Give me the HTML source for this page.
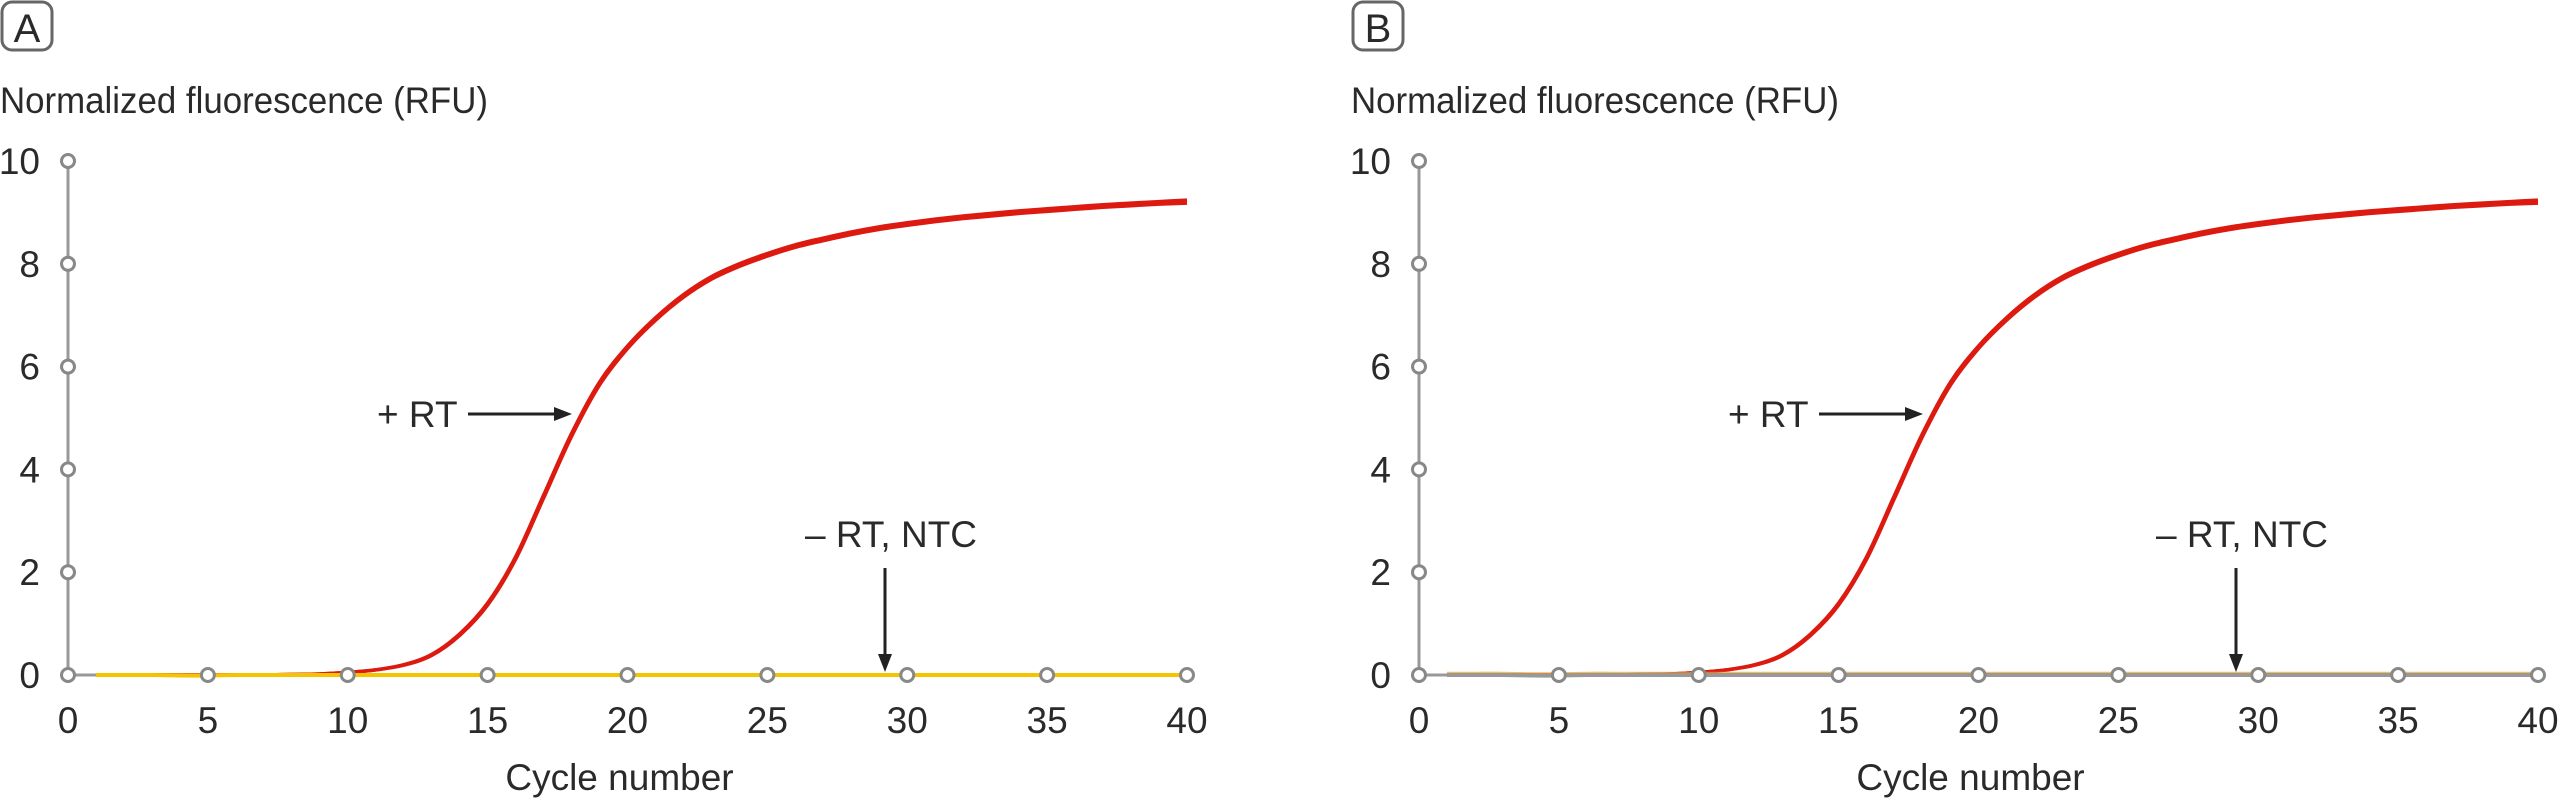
<!DOCTYPE html>
<html><head><meta charset="utf-8"><style>
html,body{margin:0;padding:0;background:#fff;}
svg text{font-family:"Liberation Sans",sans-serif;fill:#2a2a2a;}
</style></head><body>
<svg id="chart" width="2560" height="798" viewBox="0 0 2560 798" xmlns="http://www.w3.org/2000/svg"></svg>
<script>
const xTicks=[0,5,10,15,20,25,30,35,40];
const yTicks=[0,2,4,6,8,10];
const cycles=[1,2,3,4,5,6,7,8,9,10,11,12,13,14,15,16,17,18,19,20,21,22,23,24,25,26,27,28,29,30,31,32,33,34,35,36,37,38,39,40];
const rtA=[0,0,0,0,0,0,0,0.01,0.02,0.05,0.1,0.2,0.4,0.8,1.4,2.3,3.5,4.7,5.7,6.4,6.95,7.4,7.75,8.0,8.2,8.37,8.5,8.62,8.72,8.8,8.87,8.93,8.98,9.03,9.07,9.11,9.15,9.18,9.21,9.24];
const rtB=[0,0,0,0,0,0,0,0.01,0.02,0.05,0.1,0.19,0.38,0.77,1.36,2.25,3.44,4.64,5.64,6.35,6.9,7.35,7.7,7.95,8.15,8.32,8.45,8.57,8.67,8.75,8.82,8.88,8.93,8.98,9.02,9.06,9.1,9.13,9.16,9.18];
const ntc=[0,0,0,-0.01,-0.01,0,0,0,0,0,0,0,0,0,0,0,0,0,0,0,0,0,0,0,0,0,0,0,0,0,0,0,0,0,0,0,0,0,0,0];
const panels=[{label:"A",ox:68,base:"#f5c400"},{label:"B",ox:1419,base:"#999999"}];
const NS="http://www.w3.org/2000/svg";
const svg=document.getElementById('chart');
function mk(tag,attrs,parent){const e=document.createElementNS(NS,tag);for(const k in attrs)e.setAttribute(k,attrs[k]);(parent||svg).appendChild(e);return e;}
const y0=675,y10=161,W=1119;
panels.forEach(p=>{
  const g=mk('g',{});
  
  
  const X=v=>p.ox+v/40*W, Y=v=>y0-(v/10)*(y0-y10);
  const box=mk('rect',{x:p.ox-66,y:2,width:50,height:48,rx:10,fill:'none',stroke:'#666','stroke-width':3},g);
  
  const lt=mk('text',{x:p.ox-41,y:42,'font-size':40,'text-anchor':'middle'},g);lt.textContent=p.label;
  
  const yt=mk('text',{x:p.ox-68,y:113,'font-size':37,textLength:488,lengthAdjust:'spacingAndGlyphs'},g);
  yt.textContent='Normalized fluorescence (RFU)';
  
  const xt=mk('text',{x:X(20)-8,y:790,'font-size':37,'text-anchor':'middle'},g);xt.textContent='Cycle number';
  
  const ya=mk('line',{x1:X(0),y1:Y(10),x2:X(0),y2:Y(0),stroke:'#999','stroke-width':3},g);
  
  const xa=mk('line',{x1:X(0),y1:Y(0),x2:X(40),y2:Y(0),stroke:'#999','stroke-width':3},g);
  
  const pts=arr=>cycles.map((c,i)=>[X(c),Y(arr[i])]);
  function smooth(P){let d='M'+P[0][0]+','+P[0][1];for(let i=0;i<P.length-1;i++){const p0=P[Math.max(0,i-1)],p1=P[i],p2=P[i+1],p3=P[Math.min(P.length-1,i+2)];d+=' C'+(p1[0]+(p2[0]-p0[0])/6)+','+(p1[1]+(p2[1]-p0[1])/6)+' '+(p2[0]-(p3[0]-p1[0])/6)+','+(p2[1]-(p3[1]-p1[1])/6)+' '+p2[0]+','+p2[1];}return d;}
  [rtA,rtB].forEach((arr,k)=>{const r=mk('path',{d:smooth(pts(arr)),fill:'none',stroke:'#dd1a10','stroke-width':3.5},g);
    });
  if(p.label==='B'){const o=mk('path',{d:smooth(pts(ntc.map(v=>v+0.04))),fill:'none',stroke:'#f0a020','stroke-width':2.5,opacity:0.7},g);
    }
  const nl=mk('path',{d:smooth(pts(ntc)),fill:'none',stroke:p.base,'stroke-width':4},g);
  
  xTicks.forEach(t=>{
    const c=mk('circle',{cx:X(t),cy:Y(0),r:6.5,fill:'#fff',stroke:'#888','stroke-width':3},g);
    
    const tx=mk('text',{x:X(t),y:733,'font-size':37,'text-anchor':'middle'},g);tx.textContent=t;
    
  });
  yTicks.forEach(t=>{
    if(t>0){const c=mk('circle',{cx:X(0),cy:Y(t),r:6.5,fill:'#fff',stroke:'#888','stroke-width':3},g);
      }
    const tx=mk('text',{x:p.ox-28,y:Y(t)+13,'font-size':37,'text-anchor':'end'},g);tx.textContent=t;
    
  });
  const a1=mk('text',{x:p.ox+309,y:427,'font-size':37},g);a1.textContent='+ RT';
  
  const l1=mk('path',{d:`M${p.ox+400},414 L${p.ox+490},414`,stroke:'#222','stroke-width':3},g);
  
  mk('path',{d:`M${p.ox+504},414 L${p.ox+486},407 L${p.ox+486},421 Z`,fill:'#222'},g);
  const a2=mk('text',{x:p.ox+737,y:547,'font-size':37},g);a2.textContent='– RT, NTC';
  
  const l2=mk('path',{d:`M${p.ox+817},568 L${p.ox+817},656`,stroke:'#222','stroke-width':3},g);
  
  mk('path',{d:`M${p.ox+817},672 L${p.ox+810},654 L${p.ox+824},654 Z`,fill:'#222'},g);
});
</script>
</body></html>
